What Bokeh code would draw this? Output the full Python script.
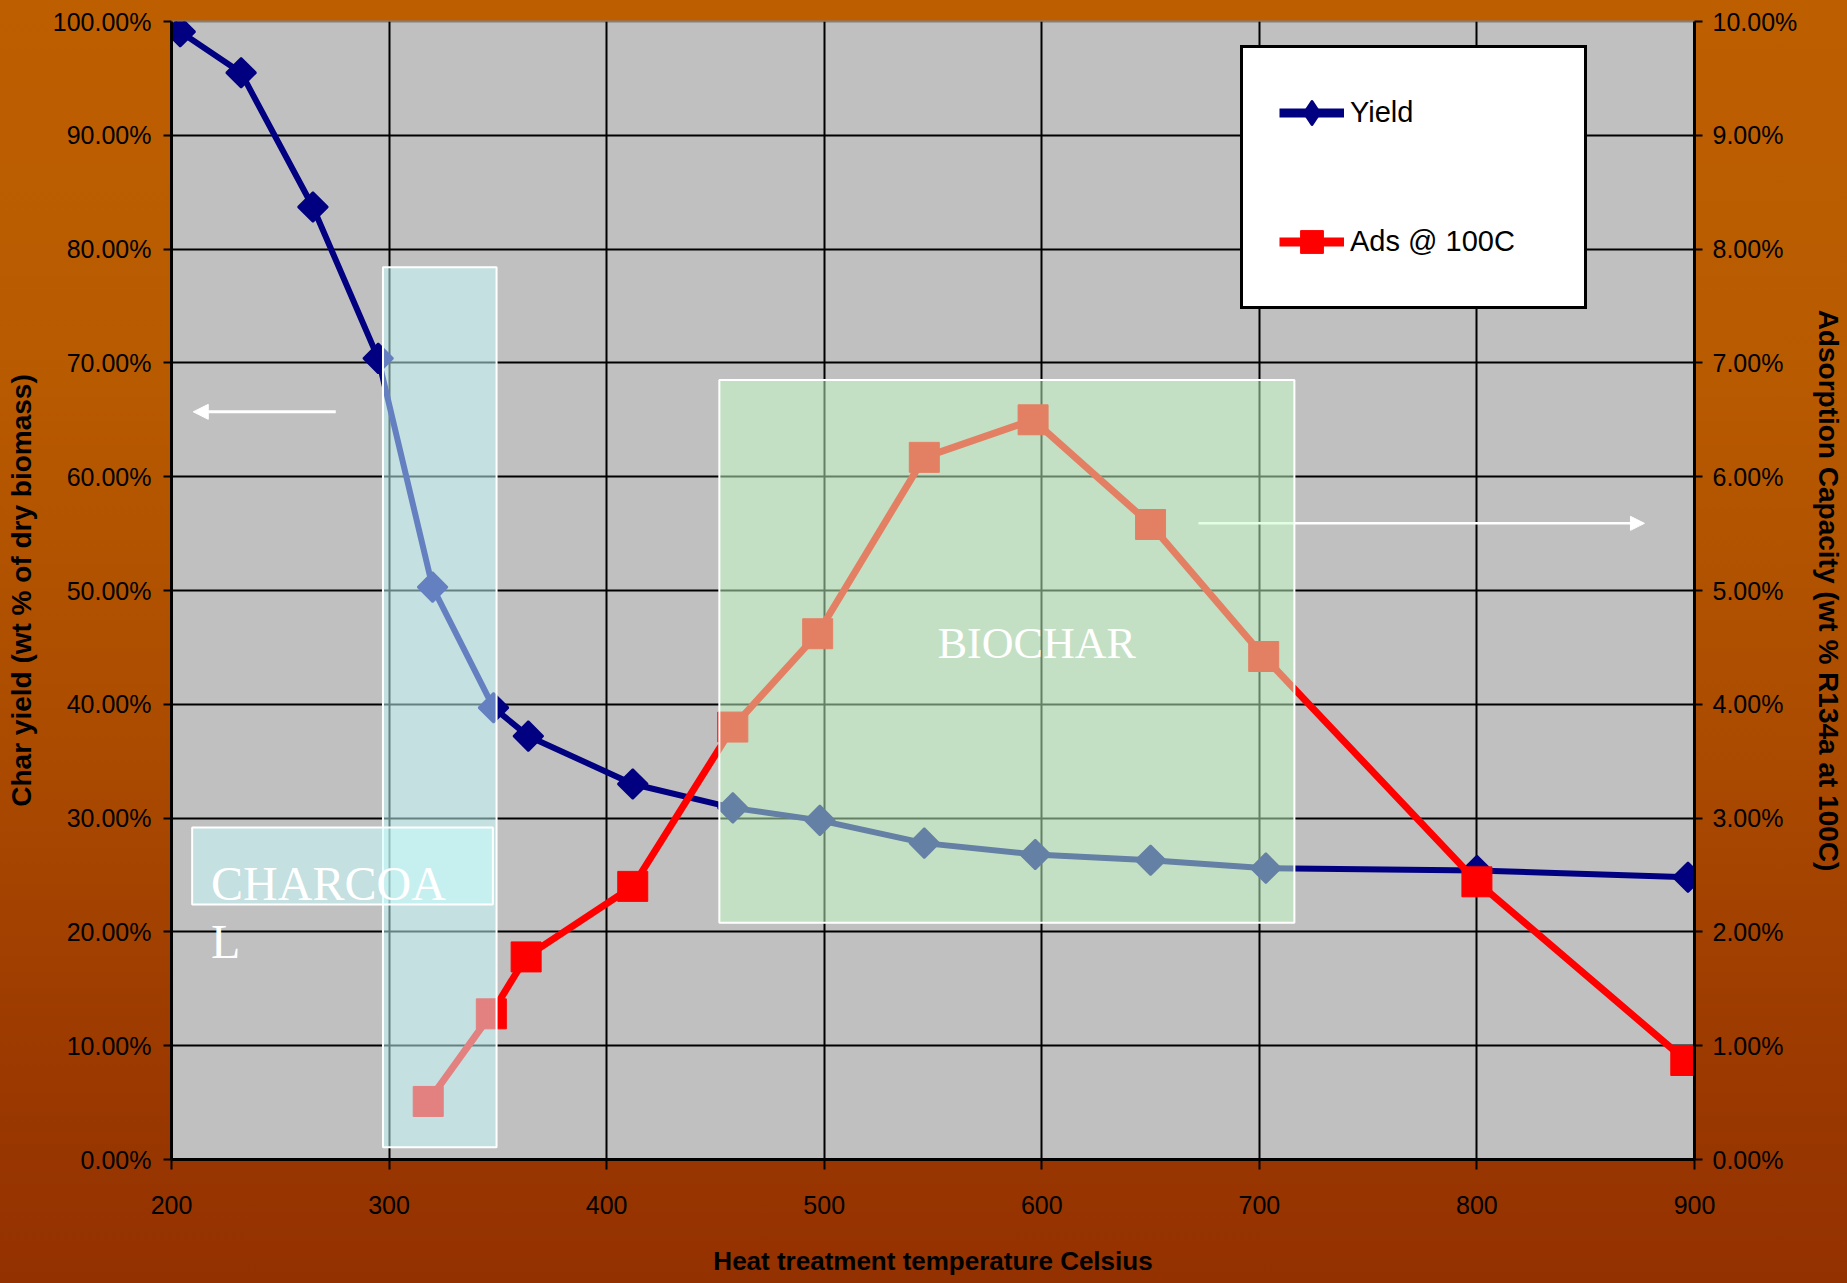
from bokeh.plotting import figure
from bokeh.models import (Range1d, LinearAxis, FixedTicker, NumeralTickFormatter,
                          BoxAnnotation, Label, Arrow, NormalHead, Legend, LegendItem)
from bokeh.embed import file_html
from bokeh.resources import INLINE

# ---- data ----
temp_yield = [204, 232, 265, 295, 320, 348, 364, 412, 458, 498, 546, 597, 650, 703, 800, 897]
yield_frac = [0.991, 0.955, 0.837, 0.704, 0.503, 0.397, 0.372, 0.330, 0.309, 0.298,
              0.278, 0.268, 0.263, 0.256, 0.254, 0.248]
temp_ads = [318, 347, 363, 412, 458, 497, 546, 596, 650, 702, 800, 896]
ads_frac = [0.0051, 0.0128, 0.0178, 0.0240, 0.0380, 0.0462, 0.0617, 0.0650,
            0.0558, 0.0442, 0.0244, 0.0087]
x_ticks = [200, 300, 400, 500, 600, 700, 800, 900]
left_ticks = [0.0, 0.1, 0.2, 0.3, 0.4, 0.5, 0.6, 0.7, 0.8, 0.9, 1.0]
right_ticks = [0.0, 0.01, 0.02, 0.03, 0.04, 0.05, 0.06, 0.07, 0.08, 0.09, 0.10]

TICK_FONT = "Liberation Sans, Arial"
TITLE_FONT = "Liberation Sans, Arial"
SERIF = "Liberation Serif, Times New Roman"
NAVY = "#000080"
RED = "#ff0000"
NAN = float("nan")

p = figure(width=1847, height=1283, output_backend="svg", toolbar_location=None,
           x_range=Range1d(200, 900), y_range=Range1d(0, 1.0),
           min_border_left=171, min_border_right=150, min_border_top=21, min_border_bottom=124)
p.extra_y_ranges = {"ads": Range1d(0, 0.1)}

p.border_fill_color = None
p.styles = {"background": "linear-gradient(to bottom, #bd5f00 0%, #b85a00 30%, #aa4a00 60%, #9c3a00 82%, #943100 100%)"}
p.background_fill_color = "#c0c0c0"
p.outline_line_color = "#808080"
p.outline_line_width = 2

# grids
p.xgrid.ticker = FixedTicker(ticks=x_ticks)
p.ygrid.ticker = FixedTicker(ticks=left_ticks)
for g in (p.xgrid, p.ygrid):
    g.grid_line_color = "black"
    g.grid_line_width = 2

def style_axis(ax):
    ax.axis_line_color = "black"
    ax.axis_line_width = 3
    ax.major_tick_line_color = "black"
    ax.major_tick_line_width = 2
    ax.major_tick_in = 0
    ax.major_tick_out = 8
    ax.minor_tick_line_color = None
    ax.major_label_text_font = TICK_FONT
    ax.major_label_text_font_size = "25px"
    ax.major_label_text_color = "black"
    ax.axis_label_text_font = TITLE_FONT
    ax.axis_label_text_font_style = "bold"
    ax.axis_label_text_color = "black"

xa = p.xaxis[0]
style_axis(xa)
xa.ticker = FixedTicker(ticks=x_ticks)
xa.major_tick_out = 10
xa.major_label_standoff = 26
xa.axis_label = "Heat treatment temperature Celsius"
xa.axis_label_text_font_size = "26px"
xa.axis_label_standoff = 29

ya = p.yaxis[0]
style_axis(ya)
ya.ticker = FixedTicker(ticks=left_ticks)
ya.formatter = NumeralTickFormatter(format="0.00%")
ya.major_label_standoff = 12
ya.axis_label = "Char yield (wt % of dry biomass)"
ya.axis_label_text_font_size = "28px"
ya.axis_label_standoff = 13

ra = LinearAxis(y_range_name="ads")
style_axis(ra)
ra.ticker = FixedTicker(ticks=right_ticks)
ra.formatter = NumeralTickFormatter(format="0.00%")
ra.major_label_standoff = 10
ra.axis_label = "Adsorption Capacity (wt % R134a at 100C)"
ra.axis_label_text_font_size = "28px"
ra.axis_label_standoff = 13
p.add_layout(ra, "right")

# series
yl = p.line(temp_yield, yield_frac, line_color=NAVY, line_width=6)
ym = p.scatter(temp_yield, yield_frac, marker="square", angle=0.7854, size=21, line_width=2,
               fill_color=NAVY, line_color=NAVY)
al = p.line(temp_ads, ads_frac, y_range_name="ads", line_color=RED, line_width=7)
am = p.scatter(temp_ads, ads_frac, y_range_name="ads", marker="square", size=30,
               fill_color=RED, line_color=RED)

# legend swatches (a single NaN point each, so they are only drawn inside the legend)
lg_yl = p.line([NAN], [NAN], line_color=NAVY, line_width=9)
lg_ym = p.scatter([NAN], [NAN], marker="diamond", line_width=3, line_join="round",
                  fill_color=NAVY, line_color=NAVY)
lg_al = p.line([NAN], [NAN], line_color=RED, line_width=9)
lg_am = p.scatter([NAN], [NAN], marker="square", fill_color=RED, line_color=RED)

# arrows (under the shaded boxes)
p.add_layout(Arrow(x_start=275.5, y_start=0.657, x_end=210.0, y_end=0.657,
                   line_color="white", line_width=3,
                   end=NormalHead(size=15, fill_color="white", line_color="white")))
p.add_layout(Arrow(x_start=672, y_start=0.559, x_end=877, y_end=0.559,
                   line_color="white", line_width=2.5,
                   end=NormalHead(size=14, fill_color="white", line_color="white")))

# shaded regions
box_kw = dict(line_color="white", line_width=2, line_alpha=1.0, fill_alpha=0.5)
p.add_layout(BoxAnnotation(left=297.2, right=349.4, bottom=0.0108, top=0.784,
                           fill_color=(200, 255, 255), **box_kw))
p.add_layout(BoxAnnotation(left=451.8, right=716.1, bottom=0.208, top=0.685,
                           fill_color=(200, 255, 200), **box_kw))
p.add_layout(BoxAnnotation(left=209.5, right=347.7, bottom=0.224, top=0.2917,
                           fill_color=(200, 255, 255), **box_kw))

# region labels
p.add_layout(Label(x=218.2, y=0.2428, text="CHARCOA", text_font=SERIF, text_font_size="48px",
                   text_color="white", text_align="left", text_baseline="alphabetic"))
p.add_layout(Label(x=218.2, y=0.1916, text="L", text_font=SERIF, text_font_size="48px",
                   text_color="white", text_align="left", text_baseline="alphabetic"))
p.add_layout(Label(x=597.7, y=0.4534, text="BIOCHAR", text_font=SERIF, text_font_size="44px",
                   text_color="white", text_align="center", text_baseline="middle"))

legend = Legend(items=[LegendItem(label="Yield", renderers=[lg_yl, lg_ym]),
                       LegendItem(label="Ads @ 100C", renderers=[lg_al, lg_am])],
                location=(1069, 850), margin=0, padding=36, spacing=72,
                glyph_height=57, glyph_width=65, label_standoff=6, label_width=198,
                label_text_font=TICK_FONT, label_text_font_size="29px",
                label_text_color="black",
                border_line_color="black", border_line_width=3, border_line_alpha=1.0,
                background_fill_color="white", background_fill_alpha=1.0)
p.add_layout(legend, "center")

open("out.html", "w").write(file_html(p, INLINE))
